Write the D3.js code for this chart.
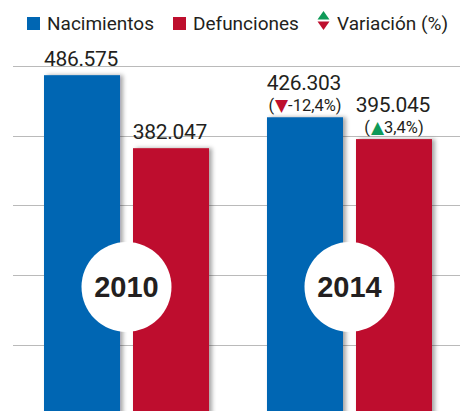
<!DOCTYPE html>
<html><head><meta charset="utf-8">
<script src="https://cdn.jsdelivr.net/npm/d3@7"></script>
<style>
html,body{margin:0;padding:0;background:#fff;}
svg{display:block;font-family:Roboto,"Liberation Sans",sans-serif;}
</style></head>
<body>
<div id="chart"></div>
<script>
const years = ["2010", "2014"];
const seriesNames = ["Nacimientos", "Defunciones"];
const nacimientos = [486575, 426303];
const defunciones = [382047, 395045];
const valueLabels = [["486.575", "382.047"], ["426.303", "395.045"]];
const variationLabels = [[null, null], ["-12,4%", "3,4%"]];
const variationDir = [[null, null], ["down", "up"]];
const gridTicks = [100000, 200000, 300000, 400000, 500000];
const colors = ["#0066b3", "#be0f2e"];
const green = "#0f9a58";

const W = 460, H = 411;
const svg = d3.select("#chart").append("svg").attr("width", W).attr("height", H);

const defs = svg.append("defs");
const f = defs.append("filter").attr("id","sh").attr("x","-20%").attr("y","-5%").attr("width","150%").attr("height","120%");
f.append("feDropShadow").attr("dx",3).attr("dy",0).attr("stdDeviation",2.2).attr("flood-color","#000").attr("flood-opacity",0.35);

const y = d3.scaleLinear().domain([0, 500000]).range([415, 65.8]);
const groupX = d3.scaleBand().domain(years).range([44, 432]).paddingInner(0.26);
const x1 = d3.scaleBand().domain([0,1]).range([0, groupX.bandwidth()]).paddingInner(0.146);

// gridlines
svg.append("g").selectAll("line").data(gridTicks).join("line")
  .attr("x1", 13).attr("x2", W)
  .attr("y1", d => Math.round(y(d)) + 0.5).attr("y2", d => Math.round(y(d)) + 0.5)
  .attr("stroke", "#bababa").attr("stroke-width", 1.2);

const data = years.map((yr, i) => ({year: yr, values: [nacimientos[i], defunciones[i]], i}));

const g = svg.append("g").selectAll("g").data(data).join("g")
  .attr("transform", d => `translate(${groupX(d.year)},0)`);

g.selectAll("rect").data(d => d.values.map((v, k) => ({v, k}))).join("rect")
  .attr("x", d => x1(d.k)).attr("width", x1.bandwidth())
  .attr("y", d => y(d.v)).attr("height", d => y(0) - y(d.v))
  .attr("fill", d => colors[d.k]).attr("filter", "url(#sh)");

// value labels
g.each(function(d) {
  const gg = d3.select(this);
  d.values.forEach((v, k) => {
    const cx = x1(k) + x1.bandwidth() / 2;
    const hasVar = variationLabels[d.i][k] != null;
    const top = y(v);
    const valBase = hasVar ? top - 27 : top - 9;
    gg.append("text").attr("x", cx - 1).attr("y", valBase)
      .attr("text-anchor", "middle").attr("font-size", 21).attr("fill", "#231f20")
      .attr("letter-spacing", -0.3)
      .text(valueLabels[d.i][k]);
    if (hasVar) {
      const t = gg.append("text").attr("x", cx).attr("y", top - 6)
        .attr("text-anchor", "middle").attr("font-size", 16.5).attr("fill", "#231f20");
      t.append("tspan").text("(");
      t.append("tspan").attr("fill", variationDir[d.i][k] === "down" ? colors[1] : green)
        .attr("font-family", "'DejaVu Sans'").attr("font-size", 17).attr("dx", 1)
        .text(variationDir[d.i][k] === "down" ? "▼" : "▲");
      t.append("tspan").text(variationLabels[d.i][k] + ")");
    }
  });
});

// year circles
g.append("circle")
  .attr("cx", groupX.bandwidth() / 2).attr("cy", 287).attr("r", 45)
  .attr("fill", "#fff");
g.append("text")
  .attr("x", groupX.bandwidth() / 2).attr("y", 297)
  .attr("text-anchor", "middle").attr("font-size", 29).attr("font-weight", "bold")
  .attr("fill", "#231f20").attr("font-family", "'Liberation Sans', Roboto, sans-serif")
  .text(d => d.year);

// legend
const leg = svg.append("g");
const legItems = [{label: seriesNames[0], x: 27, c: colors[0]}, {label: seriesNames[1], x: 173, c: colors[1]}];
legItems.forEach(it => {
  leg.append("rect").attr("x", it.x).attr("y", 17).attr("width", 13).attr("height", 13).attr("fill", it.c);
  leg.append("text").attr("x", it.x + 20).attr("y", 30).attr("font-size", 19).attr("fill", "#231f20").text(it.label);
});
leg.append("path").attr("d", "M317.5,19.5 L323.5,11 L329.5,19.5 Z").attr("fill", green);
leg.append("path").attr("d", "M317.5,21.5 L323.5,30 L329.5,21.5 Z").attr("fill", colors[1]);
leg.append("text").attr("x", 337).attr("y", 30).attr("font-size", 19).attr("fill", "#231f20").text("Variación (%)");
</script>
</body></html>
